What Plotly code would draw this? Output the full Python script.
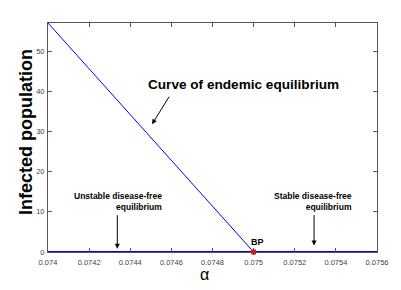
import plotly.graph_objects as go

# Data
alpha_endemic = [0.074, 0.075]
infected_endemic = [57, 0]
alpha_disease_free = [0.074, 0.0756]
infected_disease_free = [0, 0]
bp_alpha = [0.075]
bp_infected = [0]
x_ticks = [0.074, 0.0742, 0.0744, 0.0746, 0.0748, 0.075, 0.0752, 0.0754, 0.0756]
x_tick_labels = ["0.074", "0.0742", "0.0744", "0.0746", "0.0748", "0.075", "0.0752", "0.0754", "0.0756"]
y_ticks = [0, 10, 20, 30, 40, 50]

FONT = "Liberation Sans, Arial"

fig = go.Figure()
fig.add_trace(go.Scatter(x=alpha_disease_free, y=infected_disease_free, mode="lines",
                         line=dict(color="#0000ff", width=2), cliponaxis=False, showlegend=False))
fig.add_trace(go.Scatter(x=alpha_endemic, y=infected_endemic, mode="lines",
                         line=dict(color="#0000ff", width=1), cliponaxis=False, showlegend=False))
fig.add_trace(go.Scatter(x=bp_alpha, y=bp_infected, mode="markers",
                         marker=dict(symbol="asterisk-open", color="red", size=5, line=dict(color="red", width=1.5)),
                         cliponaxis=False, showlegend=False))

axis_common = dict(showgrid=False, zeroline=False, showline=True, linecolor="#555555", linewidth=1,
                   mirror="ticks", ticks="inside", ticklen=4, tickcolor="#555555")
fig.update_xaxes(range=[0.074, 0.0756], tickvals=x_ticks, ticktext=x_tick_labels,
                 ticklabelstandoff=3, tickfont=dict(family=FONT, size=7.5, color="#444444"),
                 **axis_common)
fig.update_yaxes(range=[0, 57], tickvals=y_ticks, ticklabelstandoff=1,
                 tickfont=dict(family=FONT, size=7.5, color="#444444"), **axis_common)

ann_font = dict(family=FONT, color="black")
fig.add_annotation(x=0.07495, y=41.8, text="<b>Curve of endemic equilibrium</b>", showarrow=False,
                   font=dict(size=13.6, **ann_font))
fig.add_annotation(x=0.074506, y=31.8, ax=18, ay=-29, showarrow=True, arrowhead=2, arrowsize=1,
                   arrowwidth=1, arrowcolor="black", text="")
fig.add_annotation(x=0.074565, y=12.6, text="<b>Unstable disease-free<br>equilibrium</b>", showarrow=False,
                   xanchor="right", align="right", font=dict(size=8.5, **ann_font))
fig.add_annotation(x=0.074337, y=0.8, ax=0, ay=-35, showarrow=True, arrowhead=2, arrowsize=1,
                   arrowwidth=1, arrowcolor="black", text="")
fig.add_annotation(x=0.075486, y=12.6, text="<b>Stable disease-free<br>equilibrium</b>", showarrow=False,
                   xanchor="right", align="right", font=dict(size=8.5, **ann_font))
fig.add_annotation(x=0.075294, y=1.6, ax=0, ay=-32, showarrow=True, arrowhead=2, arrowsize=1,
                   arrowwidth=1, arrowcolor="black", text="")
fig.add_annotation(x=0.075018, y=2.6, text="<b>BP</b>", showarrow=False,
                   font=dict(size=9, **ann_font))
fig.add_annotation(xref="paper", yref="paper", x=-0.067, y=0.524, textangle=-90,
                   xanchor="center", yanchor="middle",
                   text="<b>Infected population</b>", showarrow=False,
                   font=dict(family=FONT, size=18, color="black"))
fig.add_annotation(xref="paper", yref="paper", x=0.477, y=-0.1,
                   xanchor="center", yanchor="middle",
                   text="α", showarrow=False,
                   font=dict(family=FONT, size=16, color="black"))

fig.update_layout(width=401, height=290, margin=dict(l=48, r=24, t=23, b=38),
                  plot_bgcolor="white", paper_bgcolor="white")
fig.write_html("out.html", config={"displayModeBar": False},
               post_script="document.body.style.margin='0';")
